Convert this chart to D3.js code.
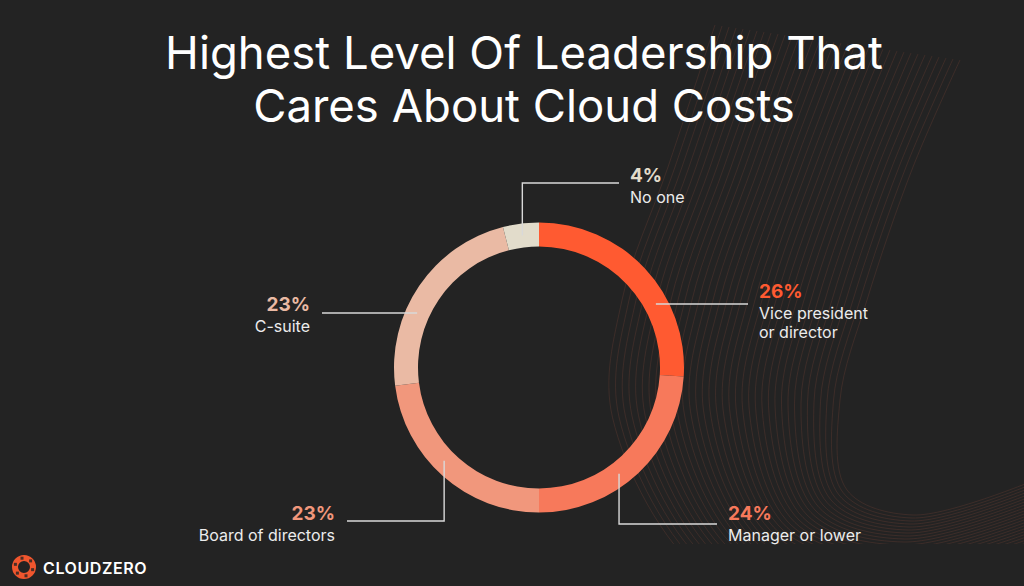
<!DOCTYPE html>
<html>
<head>
<meta charset="utf-8">
<script src="https://cdn.jsdelivr.net/npm/d3@7/dist/d3.min.js"></script>
<style>
  html, body { margin: 0; padding: 0; background: #232323; }
  svg { display: block; }
  text { font-family: Inter, "Noto Sans", sans-serif; }
</style>
</head>
<body>
<svg id="chart" width="1024" height="586"></svg>
<script>
// ---- data ----
const titleLines = ["Highest Level Of Leadership That", "Cares About Cloud Costs"];
const categories = ["Vice president\nor director", "Manager or lower", "Board of directors", "C-suite", "No one"];
const values = [26, 24, 23, 23, 4];
const colors = ["#FF5A31", "#F7795B", "#F1977C", "#EABAA4", "#E2DCCB"];
const brand = "CLOUDZERO";

// ---- layout ----
const W = 1024, H = 586;
const cx = 539, cy = 367.5, rOuter = 145, rInner = 121;
const rMid = (rOuter + rInner) / 2;
// leader layout: anchor angle (deg), route type, leader y, leader end x, label side, pct baseline
const leaders = [
  { ang: 61.5,  route: "h", y: 304, endX: 748, side: "right", py: 298 },
  { ang: 143,   route: "v", y: 524, endX: 717, side: "right", py: 520 },
  { ang: 225.5, route: "v", y: 521, endX: 347, side: "left",  py: 520 },
  { ang: 293.6, route: "h", y: 313, endX: 322, side: "left",  py: 311 },
  { ang: 352.8, route: "v", y: 183, endX: 619, side: "right", py: 182 }
];

const svg = d3.select("#chart");
svg.append("rect").attr("width", W).attr("height", H).attr("fill", "#232323");

// ---- decorative contour lines (background) ----
const clip = svg.append("defs").append("clipPath").attr("id", "decoClip");
clip.append("rect").attr("x", 0).attr("y", 0).attr("width", W).attr("height", 544);
const deco = svg.append("g").attr("clip-path", "url(#decoClip)").attr("fill", "none")
  .attr("stroke", "#8a4a38").attr("stroke-opacity", 0.35).attr("stroke-width", 0.7);
const base = [[960, 60], [913, 167], [867, 300], [840, 400], [847, 490], [913, 515], [1040, 478]];
const dirs = [[-7, -1], [-7, 0], [-7, 0], [-6.5, 0.5], [-4, 2.5], [-1, 3], [0, 3]];
const line = d3.line().curve(d3.curveCatmullRom);
d3.range(36).forEach(i => {
  const pts = base.map((p, k) => [p[0] + dirs[k][0] * i, p[1] + dirs[k][1] * i]);
  deco.append("path").attr("d", line(pts));
});

// ---- title ----
const title = svg.append("text").attr("text-anchor", "middle").attr("fill", "#ffffff")
  .attr("font-size", 45.5).attr("font-weight", 400);
title.selectAll("tspan").data(titleLines).join("tspan")
  .attr("x", 524).attr("y", (d, i) => 69 + i * 53).text(d => d);

// ---- donut ----
const total = d3.sum(values);
const pie = d3.pie().sort(null).value(d => d)(values);
const arc = d3.arc().innerRadius(rInner).outerRadius(rOuter);
const g = svg.append("g").attr("transform", `translate(${cx},${cy})`);
g.selectAll("path").data(pie).join("path")
  .attr("d", arc).attr("fill", (d, i) => colors[i]);

// ---- leaders and labels ----
const lab = svg.append("g");
leaders.forEach((L, i) => {
  const a = L.ang * Math.PI / 180;
  const x0 = cx + rMid * Math.sin(a), y0 = cy - rMid * Math.cos(a);
  let pts;
  if (L.route === "h") pts = [[x0, L.y], [L.endX, L.y]];
  else pts = [[x0, y0], [x0, L.y], [L.endX, L.y]];
  lab.append("path").attr("d", d3.line()(pts)).attr("fill", "none")
    .attr("stroke", "#d9d9d9").attr("stroke-width", 1.4);

  const right = L.side === "right";
  const tx = right ? L.endX + 11 : L.endX - 12;
  const anchor = right ? "start" : "end";
  lab.append("text").attr("x", tx).attr("y", L.py).attr("text-anchor", anchor)
    .attr("fill", colors[i]).attr("font-size", 19).attr("font-weight", 700)
    .text(Math.round(values[i] / total * 100) + "%");
  const t = lab.append("text").attr("text-anchor", anchor).attr("fill", "#ececec")
    .attr("font-size", 16).attr("font-weight", 400);
  categories[i].split("\n").forEach((s, k) => {
    t.append("tspan").attr("x", tx).attr("y", L.py + 21 + k * 19).text(s);
  });
});

// ---- brand logo ----
const logo = svg.append("g").attr("transform", "translate(24,567)");
logo.append("circle").attr("r", 9).attr("fill", "none").attr("stroke", "#F0562E").attr("stroke-width", 6);
d3.range(6).forEach(k => {
  const a = k * Math.PI / 3 + 0.3;
  logo.append("rect").attr("x", 9 * Math.cos(a) - 1.5).attr("y", 9 * Math.sin(a) - 1.5)
    .attr("width", 3).attr("height", 3).attr("fill", "#232323").attr("opacity", 0.8);
});
svg.append("text").attr("x", 43).attr("y", 574).attr("fill", "#ffffff")
  .attr("font-size", 16).attr("font-weight", 600).attr("letter-spacing", 0.6).text(brand);
</script>
</body>
</html>
